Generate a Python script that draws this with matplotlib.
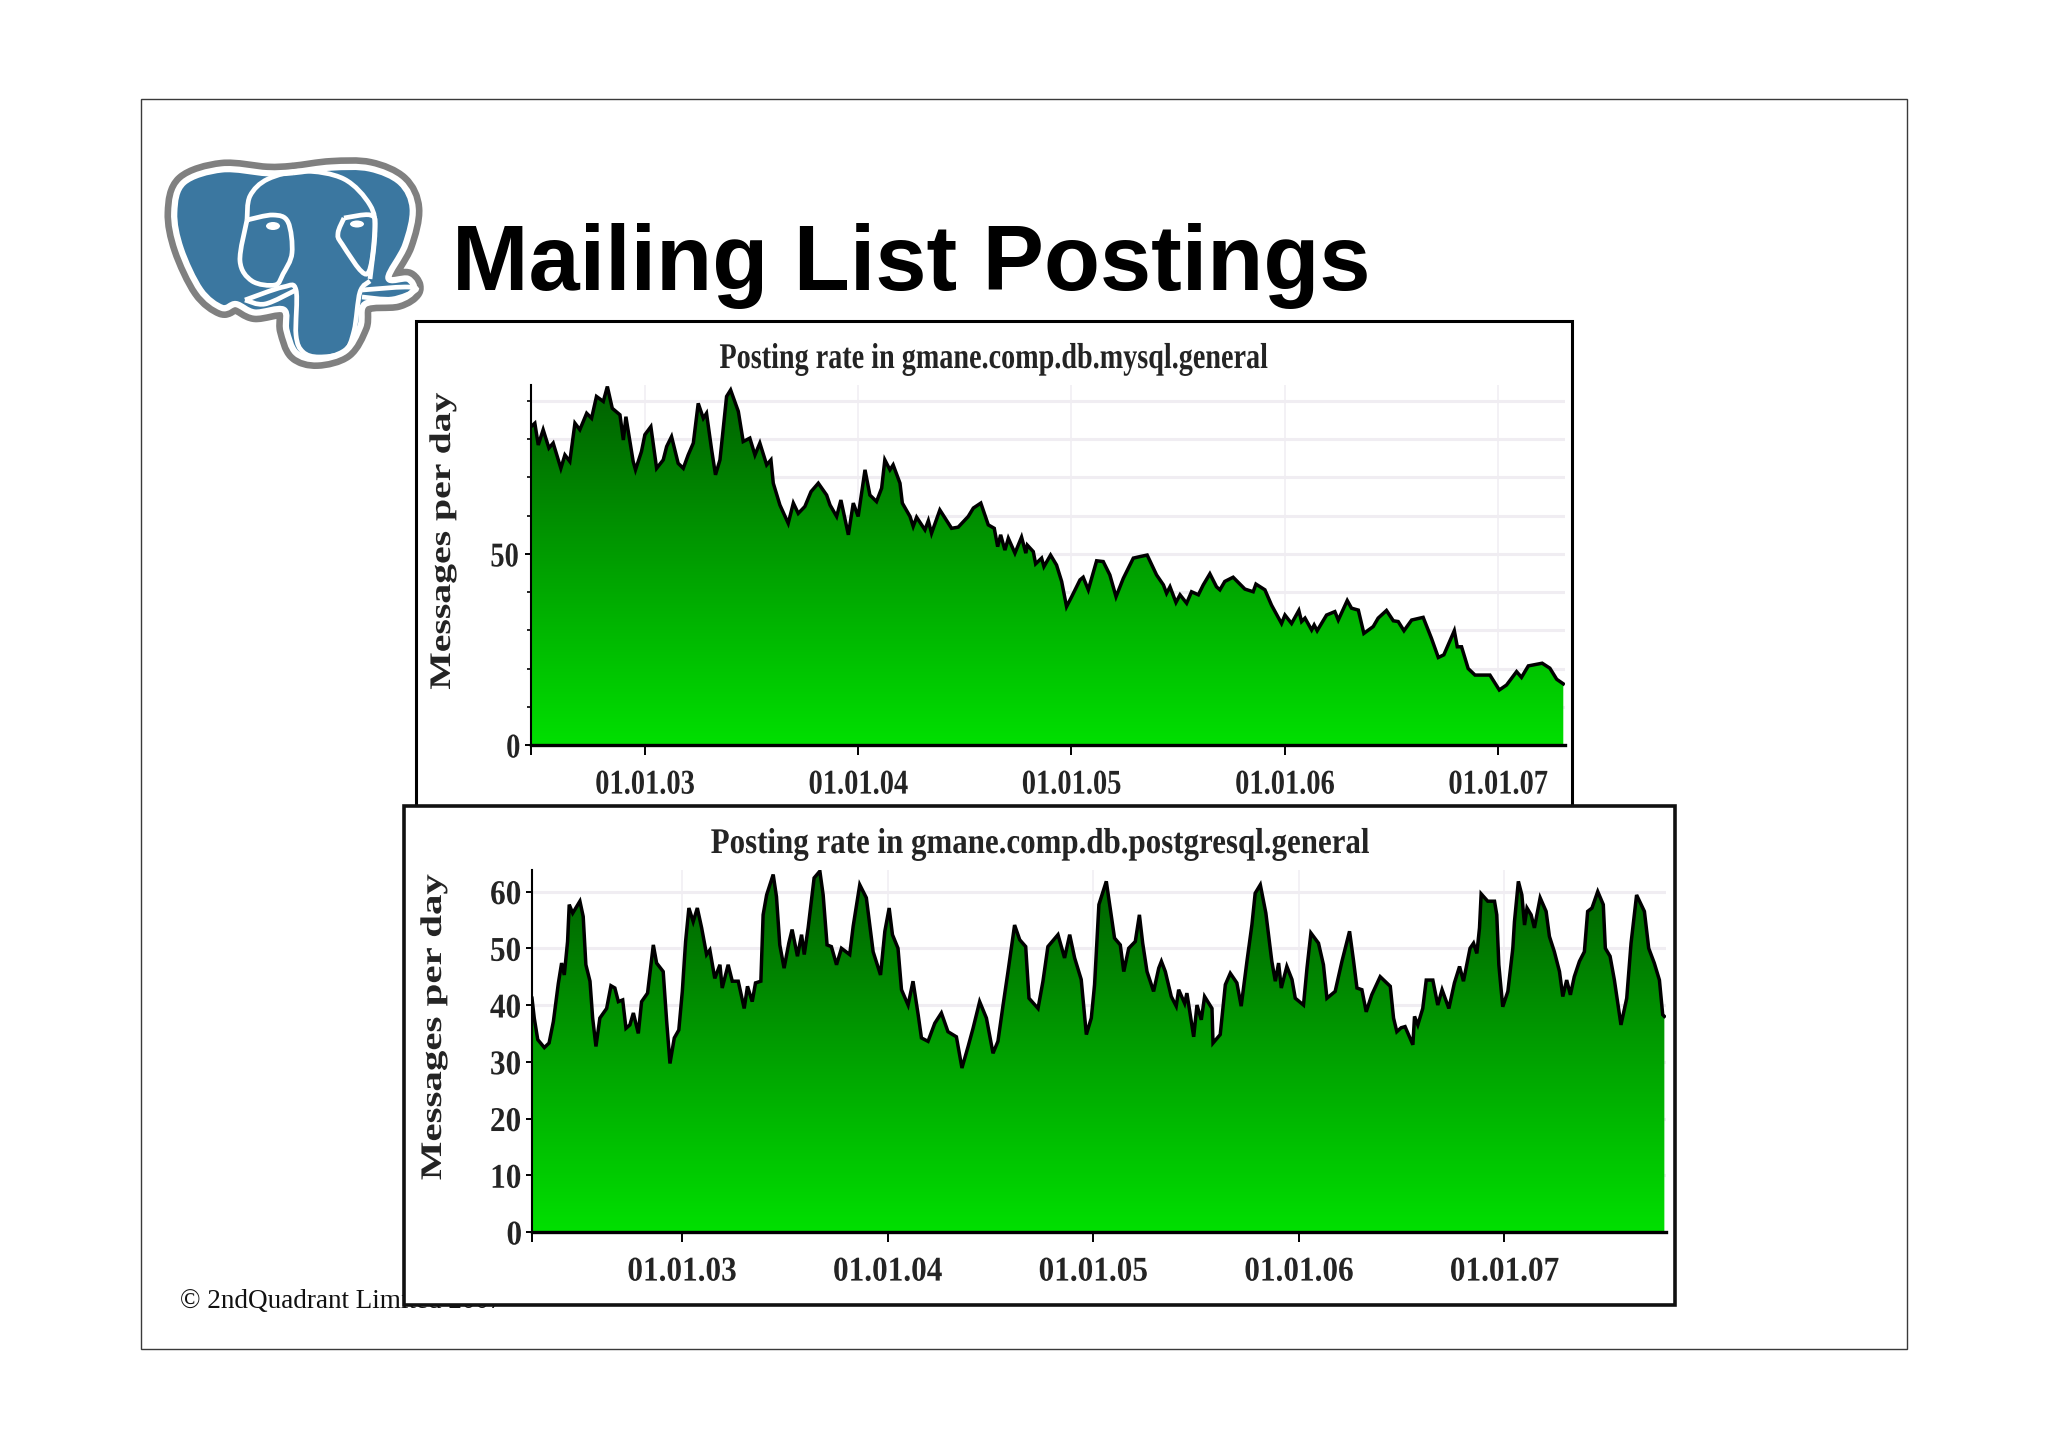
import numpy as np
import matplotlib
matplotlib.use("Agg")
import matplotlib.pyplot as plt
from matplotlib import patheffects
from matplotlib.colors import LinearSegmentedColormap
from matplotlib.patches import Ellipse, PathPatch, Rectangle
from matplotlib.path import Path
from matplotlib.transforms import Affine2D

W, H = 2048, 1447

# posting rate, mysql list (date as fractional year, messages per day)
mysql_dates = [
    2002.466, 2002.484, 2002.500, 2002.523, 2002.550, 2002.570, 2002.606, 2002.625, 2002.648, 2002.672,
    2002.695, 2002.727, 2002.750, 2002.773, 2002.805, 2002.824, 2002.847, 2002.883, 2002.899, 2002.911,
    2002.945, 2002.956, 2002.984, 2003.000, 2003.028, 2003.055, 2003.086, 2003.102, 2003.125, 2003.156,
    2003.180, 2003.203, 2003.227, 2003.250, 2003.274, 2003.289, 2003.313, 2003.331, 2003.352, 2003.383,
    2003.402, 2003.438, 2003.461, 2003.492, 2003.516, 2003.539, 2003.571, 2003.591, 2003.602, 2003.633,
    2003.672, 2003.696, 2003.719, 2003.750, 2003.779, 2003.813, 2003.852, 2003.868, 2003.899, 2003.919,
    2003.954, 2003.977, 2004.000, 2004.032, 2004.055, 2004.086, 2004.110, 2004.125, 2004.149, 2004.164,
    2004.196, 2004.207, 2004.243, 2004.258, 2004.274, 2004.313, 2004.329, 2004.344, 2004.383, 2004.438,
    2004.469, 2004.516, 2004.540, 2004.575, 2004.610, 2004.638, 2004.654, 2004.668, 2004.688, 2004.704,
    2004.735, 2004.766, 2004.786, 2004.793, 2004.821, 2004.832, 2004.860, 2004.871, 2004.902, 2004.930,
    2004.954, 2004.977, 2005.001, 2005.040, 2005.055, 2005.079, 2005.118, 2005.149, 2005.180, 2005.209,
    2005.243, 2005.290, 2005.321, 2005.355, 2005.399, 2005.431, 2005.446, 2005.462, 2005.490, 2005.509,
    2005.540, 2005.563, 2005.595, 2005.618, 2005.649, 2005.680, 2005.696, 2005.719, 2005.758, 2005.813,
    2005.852, 2005.865, 2005.907, 2005.938, 2005.985, 2006.001, 2006.032, 2006.066, 2006.079, 2006.095,
    2006.126, 2006.138, 2006.152, 2006.196, 2006.235, 2006.251, 2006.293, 2006.313, 2006.345, 2006.371,
    2006.415, 2006.438, 2006.477, 2006.509, 2006.532, 2006.559, 2006.595, 2006.649, 2006.688, 2006.720,
    2006.746, 2006.795, 2006.809, 2006.829, 2006.860, 2006.892, 2006.962, 2007.006, 2007.040, 2007.087,
    2007.110, 2007.142, 2007.207, 2007.243, 2007.275, 2007.306,
]
mysql_rates = [
    83.3, 84.2, 78.5, 82.5, 77.7, 79.0, 72.4, 75.9, 74.2, 84.2,
    82.5, 86.8, 85.5, 91.2, 89.9, 93.8, 88.1, 86.4, 79.8, 85.9,
    74.2, 72.0, 76.8, 81.2, 83.3, 72.4, 74.6, 78.1, 80.7, 73.7,
    72.4, 75.9, 79.0, 89.4, 85.5, 86.8, 77.2, 70.7, 74.6, 91.2,
    92.9, 87.3, 79.4, 80.3, 75.9, 79.0, 73.3, 74.6, 68.5, 62.8,
    58.0, 63.3, 60.6, 62.4, 66.3, 68.5, 65.4, 62.8, 59.8, 64.1,
    55.0, 63.3, 59.8, 72.0, 65.4, 63.7, 67.2, 74.6, 72.0, 73.3,
    68.5, 63.3, 59.8, 57.2, 59.6, 56.3, 58.7, 55.4, 61.5, 56.7,
    57.0, 59.8, 62.0, 63.3, 57.6, 56.7, 51.9, 55.0, 51.0, 54.1,
    50.2, 54.4, 50.2, 52.3, 50.6, 47.4, 48.9, 46.7, 49.7, 47.1,
    42.8, 36.2, 38.8, 43.2, 43.9, 40.6, 48.2, 48.0, 44.5, 38.8,
    43.6, 48.9, 49.3, 49.7, 44.5, 41.9, 39.7, 41.4, 37.3, 39.3,
    37.1, 40.1, 39.3, 41.9, 44.8, 41.4, 40.6, 42.8, 43.9, 40.8,
    40.1, 42.1, 40.6, 36.6, 31.8, 34.0, 31.8, 35.2, 32.3, 33.2,
    30.1, 31.4, 29.9, 34.0, 34.9, 32.7, 37.8, 35.8, 35.3, 29.2,
    31.0, 33.2, 35.2, 32.5, 32.3, 29.9, 32.7, 33.4, 27.9, 22.9,
    23.6, 29.9, 25.7, 25.7, 20.0, 18.3, 18.3, 14.4, 15.7, 19.2,
    17.7, 20.7, 21.4, 20.1, 17.2, 16.0,
]

# posting rate, postgresql list
pg_dates = [
    2002.271, 2002.282, 2002.299, 2002.331, 2002.354, 2002.375, 2002.399, 2002.415, 2002.428, 2002.444,
    2002.452, 2002.469, 2002.504, 2002.520, 2002.533, 2002.553, 2002.566, 2002.582, 2002.601, 2002.634,
    2002.655, 2002.674, 2002.691, 2002.712, 2002.728, 2002.747, 2002.764, 2002.788, 2002.804, 2002.833,
    2002.861, 2002.877, 2002.909, 2002.926, 2002.942, 2002.963, 2002.985, 2003.002, 2003.018, 2003.034,
    2003.055, 2003.075, 2003.096, 2003.120, 2003.136, 2003.160, 2003.185, 2003.196, 2003.225, 2003.245,
    2003.274, 2003.303, 2003.319, 2003.342, 2003.358, 2003.384, 2003.395, 2003.412, 2003.444, 2003.460,
    2003.476, 2003.497, 2003.520, 2003.536, 2003.562, 2003.582, 2003.595, 2003.614, 2003.643, 2003.671,
    2003.687, 2003.706, 2003.727, 2003.752, 2003.776, 2003.816, 2003.833, 2003.865, 2003.897, 2003.930,
    2003.966, 2003.987, 2004.008, 2004.024, 2004.051, 2004.068, 2004.100, 2004.124, 2004.149, 2004.165,
    2004.197, 2004.230, 2004.262, 2004.294, 2004.335, 2004.362, 2004.392, 2004.416, 2004.448, 2004.481,
    2004.513, 2004.537, 2004.562, 2004.586, 2004.618, 2004.643, 2004.672, 2004.688, 2004.732, 2004.756,
    2004.780, 2004.829, 2004.861, 2004.886, 2004.910, 2004.942, 2004.967, 2004.991, 2005.007, 2005.028,
    2005.064, 2005.083, 2005.104, 2005.132, 2005.149, 2005.173, 2005.205, 2005.225, 2005.241, 2005.262,
    2005.294, 2005.319, 2005.332, 2005.351, 2005.380, 2005.404, 2005.416, 2005.445, 2005.456, 2005.489,
    2005.505, 2005.526, 2005.542, 2005.578, 2005.583, 2005.618, 2005.643, 2005.667, 2005.699, 2005.720,
    2005.748, 2005.772, 2005.788, 2005.813, 2005.840, 2005.869, 2005.886, 2005.902, 2005.915, 2005.942,
    2005.967, 2005.983, 2006.023, 2006.040, 2006.059, 2006.096, 2006.120, 2006.137, 2006.177, 2006.210,
    2006.247, 2006.266, 2006.283, 2006.307, 2006.328, 2006.355, 2006.396, 2006.445, 2006.461, 2006.477,
    2006.498, 2006.517, 2006.555, 2006.563, 2006.579, 2006.603, 2006.620, 2006.652, 2006.676, 2006.697,
    2006.730, 2006.757, 2006.782, 2006.801, 2006.833, 2006.850, 2006.866, 2006.879, 2006.887, 2006.919,
    2006.952, 2006.963, 2006.973, 2006.992, 2007.017, 2007.041, 2007.049, 2007.068, 2007.085, 2007.098,
    2007.110, 2007.130, 2007.146, 2007.174, 2007.203, 2007.219, 2007.243, 2007.268, 2007.284, 2007.303,
    2007.321, 2007.340, 2007.365, 2007.389, 2007.405, 2007.426, 2007.454, 2007.481, 2007.491, 2007.514,
    2007.535, 2007.567, 2007.595, 2007.616, 2007.643, 2007.681, 2007.702, 2007.729, 2007.754, 2007.770,
    2007.778,
]
pg_rates = [
    41.2, 37.7, 33.9, 32.5, 33.3, 37.1, 43.8, 47.4, 45.3, 51.2,
    57.7, 56.2, 58.3, 55.6, 47.1, 44.2, 37.7, 32.7, 37.7, 39.4,
    43.4, 43.0, 40.6, 40.9, 35.9, 36.5, 38.6, 35.0, 40.6, 42.1,
    50.6, 47.4, 45.9, 37.1, 29.7, 34.2, 35.6, 42.4, 51.2, 57.1,
    54.7, 57.1, 53.6, 48.9, 49.7, 44.7, 47.1, 43.0, 47.1, 44.2,
    44.2, 39.4, 43.3, 40.6, 43.9, 44.2, 55.9, 59.4, 63.0, 59.1,
    50.6, 46.5, 50.9, 53.3, 48.6, 52.4, 48.9, 53.6, 62.4, 63.6,
    59.4, 50.6, 50.3, 47.1, 50.0, 48.9, 53.9, 61.2, 58.9, 49.4,
    45.3, 53.0, 57.1, 52.4, 50.0, 42.7, 40.0, 44.2, 38.3, 34.2,
    33.6, 36.8, 38.6, 35.3, 34.4, 28.9, 32.7, 35.9, 40.6, 37.7,
    31.5, 33.6, 40.0, 45.9, 54.1, 51.5, 50.3, 41.2, 39.4, 44.2,
    50.3, 52.4, 48.3, 52.4, 48.3, 44.5, 34.8, 37.7, 43.6, 57.7,
    61.8, 57.1, 51.8, 50.6, 45.9, 50.0, 51.2, 55.9, 50.9, 45.9,
    42.4, 46.5, 47.7, 45.9, 41.5, 39.8, 42.7, 40.3, 42.1, 34.4,
    40.0, 37.4, 41.5, 39.4, 33.3, 34.8, 43.6, 45.6, 43.9, 39.8,
    47.7, 54.1, 59.7, 61.2, 56.2, 47.7, 44.2, 47.4, 43.0, 46.8,
    44.5, 41.2, 40.0, 46.5, 52.7, 50.9, 47.1, 41.2, 42.4, 47.7,
    53.0, 47.9, 43.0, 42.7, 38.8, 41.8, 45.0, 43.3, 37.7, 35.3,
    36.0, 36.2, 33.0, 38.0, 36.5, 39.4, 44.4, 44.4, 40.0, 42.7,
    39.4, 43.9, 46.8, 44.2, 50.0, 50.9, 49.1, 53.6, 59.6, 58.3,
    58.3, 55.9, 47.1, 39.7, 42.4, 50.0, 54.7, 61.8, 59.4, 54.1,
    57.1, 55.9, 53.6, 58.9, 56.5, 52.1, 49.4, 45.9, 41.5, 44.4,
    41.8, 45.0, 47.7, 49.4, 56.5, 57.1, 60.0, 57.7, 50.0, 48.6,
    44.4, 36.5, 41.2, 50.9, 59.4, 56.5, 50.0, 47.4, 44.4, 38.3,
    38.0,
]

year_ticks = [2003, 2004, 2005, 2006, 2007]
year_labels = ["01.01.03", "01.01.04", "01.01.05", "01.01.06", "01.01.07"]
mysql_yticks = [0, 50]
pg_yticks = [0, 10, 20, 30, 40, 50, 60]

SERIF = "Liberation Serif"
TEXT_COL = "#242424"
GRID_COL = "#f0edf2"
greens = LinearSegmentedColormap.from_list("greens", ["#005f00", "#00e000"])


class Squeeze(patheffects.AbstractPathEffect):
    # the slide's chart text is a stretched bitmap, so scale glyphs along the text
    def __init__(self, sx):
        self.sx = sx

    def draw_path(self, renderer, gc, tpath, affine, rgbFace=None):
        box = tpath.get_extents()
        cx = (box.x0 + box.x1) / 2
        stretch = Affine2D().translate(-cx, 0).scale(self.sx, 1).translate(cx, 0)
        renderer.draw_path(gc, tpath, stretch + affine, rgbFace)


def smooth_path(pts, closed=False):
    # catmull-rom through the points, written as cubic beziers
    pts = np.array(pts, dtype=float)
    n = len(pts)
    verts = [pts[0]]
    codes = [Path.MOVETO]
    for i in range(n if closed else n - 1):
        if closed:
            p0, p1, p2, p3 = pts[(i - 1) % n], pts[i], pts[(i + 1) % n], pts[(i + 2) % n]
        else:
            p0, p1, p2, p3 = pts[max(i - 1, 0)], pts[i], pts[i + 1], pts[min(i + 2, n - 1)]
        verts += [p1 + (p2 - p0) / 6, p2 - (p3 - p1) / 6, p2]
        codes += [Path.CURVE4] * 3
    return Path(verts, codes)


def draw_logo(bg):
    outline = np.array([
        (293, 166), (334, 161), (375, 162), (408, 177), (421, 205), (413, 244), (395, 279),
        (416, 280), (422, 292), (405, 303), (370, 307), (365, 331), (349, 357), (319, 366),
        (296, 359), (286, 335), (283, 313), (252, 316), (232, 307), (217, 311), (194, 292),
        (173, 248), (166, 209), (176, 177), (217, 163), (265, 167),
    ], dtype=float)
    centre = np.array([293, 262])
    shape = smooth_path((outline - centre) * 0.935 + centre, closed=True)
    bg.add_patch(PathPatch(shape, fc="none", ec="#808080", lw=14, joinstyle="round", zorder=3))
    bg.add_patch(PathPatch(shape, fc="#3b77a0", ec="white", lw=4.5, joinstyle="round", zorder=3))
    strokes = [
        [(247, 220), (250, 196), (268, 179), (303, 171), (344, 179), (370, 205), (375, 231), (370, 279)],
        [(247, 220), (273, 215), (288, 222), (292, 253), (283, 274), (275, 285), (252, 281), (240, 261), (247, 220)],
        [(344, 218), (370, 215), (375, 227), (367, 274), (342, 244), (338, 233), (344, 218)],
        [(245, 300), (283, 287), (296, 290), (296, 335), (303, 352), (319, 357), (344, 352), (354, 331), (360, 292), (370, 281)],
        [(245, 300), (265, 304), (296, 290)],
        [(362, 290), (405, 287), (416, 290), (392, 299), (362, 297)],
    ]
    for pts in strokes:
        bg.add_patch(PathPatch(smooth_path(pts), fc="none", ec="white", lw=3.4, zorder=4))
    bg.add_patch(Ellipse((273, 226), 14, 8, fc="white", ec="none", zorder=4))
    bg.add_patch(Ellipse((357, 224), 14, 7, fc="white", ec="none", zorder=4))


def draw_chart(fig, box, dates, rates, yticks, ytop, ysize, label_pos, tick_sx, label_sx):
    left, right, top, bottom = box
    ax = fig.add_axes([left / W, 1 - bottom / H, (right - left) / W, (bottom - top) / H])
    ax.patch.set_alpha(0)
    xlim = (dates[0], dates[-1] + 0.008)

    # vertical gradient clipped to the area under the curve
    under = ax.fill_between(dates, rates, 0, color="none", zorder=2)
    shade = np.linspace(0, 1, 256).reshape(-1, 1)
    im = ax.imshow(shade, cmap=greens, aspect="auto", extent=[xlim[0], xlim[1], 0, ytop],
                   origin="upper", zorder=2)
    im.set_clip_path(under.get_paths()[0], under.get_transform())
    ax.plot(dates, rates, color="black", lw=2.5, solid_joinstyle="miter", zorder=3)

    ax.set_xlim(*xlim)
    ax.set_ylim(0, ytop)
    for side in ("top", "right"):
        ax.spines[side].set_visible(False)
    ax.spines["left"].set_linewidth(1.5)
    ax.spines["bottom"].set_linewidth(2.4)
    ax.spines["left"].set_zorder(5)
    ax.spines["bottom"].set_zorder(5)

    ax.set_xticks(year_ticks)
    ax.set_xticklabels(year_labels)
    ax.set_xticks([xlim[0]], minor=True)
    ax.set_yticks(yticks)
    ax.set_yticks(np.arange(10, ytop, 10), minor=True)
    ax.tick_params(axis="x", which="both", length=7, width=1.4, pad=10)
    ax.tick_params(axis="y", which="major", length=4.5, width=1.4, pad=2)
    ax.tick_params(axis="y", which="minor", length=3, width=1.2)
    ax.set_axisbelow(True)
    ax.grid(axis="y", which="both", color=GRID_COL, lw=2.2, zorder=0)
    ax.grid(axis="x", which="major", color=GRID_COL, lw=1.1, zorder=0)

    for t in ax.get_xticklabels() + ax.get_yticklabels():
        t.set_fontfamily(SERIF)
        t.set_fontweight("bold")
        t.set_fontsize(ysize)
        t.set_color(TEXT_COL)
        t.set_path_effects([Squeeze(tick_sx)])

    ax.set_ylabel("Messages per day", fontfamily=SERIF, fontweight="bold", fontsize=21.5,
                  color=TEXT_COL, path_effects=[Squeeze(label_sx)])
    ax.yaxis.set_label_coords((label_pos[0] - left) / (right - left),
                              (bottom - label_pos[1]) / (bottom - top))
    return ax


fig = plt.figure(figsize=(W / 100, H / 100), dpi=100, facecolor="white")
bg = fig.add_axes([0, 0, 1, 1])
bg.set_xlim(0, W)
bg.set_ylim(H, 0)
bg.axis("off")

# slide frame and furniture
bg.add_patch(Rectangle((140.5, 98.5), 1766, 1250, fc="white", ec="#3a3a3a", lw=1.0, zorder=1))
bg.text(180, 1302, "\u00a9 2ndQuadrant Limited 2007", fontfamily=SERIF, fontsize=19.5,
        color="#111111", va="center", ha="left", zorder=2)
bg.text(452, 290, "Mailing List Postings", fontfamily="Liberation Sans", fontweight="bold",
        fontsize=66.2, color="black", va="baseline", ha="left", zorder=6)
draw_logo(bg)

# chart panels, the lower one sits on top of the upper one
bg.add_patch(Rectangle((416, 320.5), 1156, 490, fc="white", ec="black", lw=2.2, zorder=5))
bg.add_patch(Rectangle((404, 805.5), 1271, 499, fc="white", ec="#111111", lw=2.6, zorder=5))
bg.text(994.5, 359.5, "Posting rate in gmane.comp.db.mysql.general", fontfamily=SERIF,
        fontweight="bold", fontsize=26, color=TEXT_COL, ha="center", va="center", zorder=6,
        path_effects=[Squeeze(0.78)])
bg.text(1041, 844.5, "Posting rate in gmane.comp.db.postgresql.general", fontfamily=SERIF,
        fontweight="bold", fontsize=26, color=TEXT_COL, ha="center", va="center", zorder=6,
        path_effects=[Squeeze(0.857)])

draw_chart(fig, (531, 1565, 385, 745), mysql_dates, mysql_rates, mysql_yticks, 94.2, 25,
           (456, 541), 0.82, 1.33)
draw_chart(fig, (532, 1666, 870, 1232), pg_dates, pg_rates, pg_yticks, 63.8, 25,
           (447, 1027), 0.9, 1.37)

fig.savefig("out.png", dpi=100)
